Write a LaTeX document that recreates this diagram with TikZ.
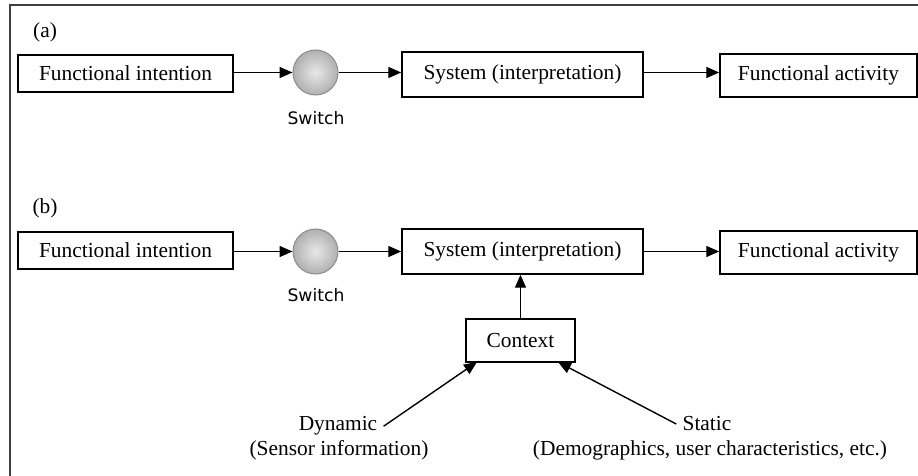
\documentclass[tikz,border=0pt]{standalone}
\usepackage{fontspec}
\setmainfont{Liberation Serif}
\newfontfamily\switchfont{DejaVu Sans}
\usepackage{tikz}
\usetikzlibrary{arrows.meta}
\usetikzlibrary{positioning}
\newcommand{\boxsize}{\fontsize{10.7pt}{13pt}\selectfont}
\tikzset{
  stagebox/.style={draw, line width=0.75pt, rectangle, inner sep=0pt, font=\boxsize},
  switchball/.style={circle, minimum size=22.5pt, inner sep=0pt, draw=black!45, line width=0.5pt,
    inner color=gray!18, outer color=gray!62},
  switchlabel/.style={font=\switchfont\fontsize{8.6pt}{10pt}\selectfont},
  plainlabel/.style={font=\boxsize, inner sep=3pt, anchor=base},
  flow/.style={line width=0.7pt, -{Triangle[length=6.5pt,width=5.5pt]}}
}
\begin{document}
\begin{tikzpicture}[x=0.5pt,y=-0.5pt]
      \useasboundingbox (0,0) rectangle (918,476);
      \clip (0,0) rectangle (918,476);
      \draw[line width=1pt, black!75] (9.5,5.5) rectangle (960,520);

      \node[font=\boxsize] (taga) at (45,32) {(a)};
      \node[stagebox, minimum width=107.5pt, minimum height=18.5pt] (fia) at (125.5,73.5) {Functional intention};
      \node[switchball] (swa) at (315.5,72.5) {};
      \node[switchlabel] (swla) at (316,118) {Switch};
      \node[stagebox, minimum width=120.5pt, minimum height=22.5pt] (sysa) at (522.5,74.5) {System (interpretation)};
      \node[stagebox, minimum width=98.5pt, minimum height=21.5pt] (faa) at (818.5,75.5) {Functional activity};
      \draw[flow] (fia.east |- swa) -- (swa);
      \draw[flow] (swa) -- (sysa.west |- swa);
      \draw[flow] (sysa.east |- swa) -- (faa.west |- swa);

      \node[font=\boxsize] (tagb) at (45,208) {(b)};
      \node[stagebox, minimum width=107.5pt, minimum height=18.5pt] (fib) at (125.5,250.5) {Functional intention};
      \node[switchball] (swb) at (315.5,251.5) {};
      \node[switchlabel] (swlb) at (316,295) {Switch};
      \node[stagebox, minimum width=120.5pt, minimum height=22.5pt] (sysb) at (522.5,251.5) {System (interpretation)};
      \node[stagebox, minimum width=98.5pt, minimum height=21.5pt] (fab) at (818.5,252.5) {Functional activity};
      \draw[flow] (fib.east |- swb) -- (swb);
      \draw[flow] (swb) -- (sysb.west |- swb);
      \draw[flow] (sysb.east |- swb) -- (fab.west |- swb);

      \node[stagebox, minimum width=54.5pt, minimum height=21.5pt] (ctx) at (520.5,340.5) {Context};
      \draw[flow] (ctx.north) -- (ctx.north |- sysb.south);

      \node[plainlabel] (dyn) at (338,431) {Dynamic};
      \node[plainlabel] (dynsub) at (339,456) {(Sensor information)};
      \node[plainlabel] (sta) at (707,431) {Static};
      \node[plainlabel] (stasub) at (710,456) {(Demographics, user characteristics, etc.)};
      \coordinate (dynend) at (477,362);
      \coordinate (staend) at (558,362);
      \draw[flow] (dyn.east) -- (dynend);
      \draw[flow] (sta.west) -- (staend);
  \end{tikzpicture}
\end{document}
